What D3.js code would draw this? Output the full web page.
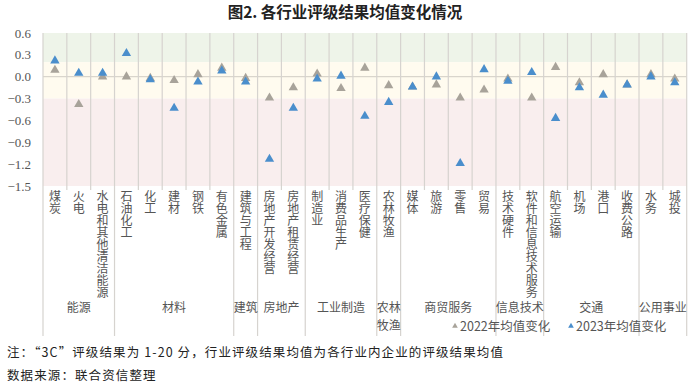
<!DOCTYPE html>
<html>
<head>
<meta charset="utf-8">
<script src="https://cdn.jsdelivr.net/npm/d3@7"></script>
<style>
  body { margin: 0; background: #fff; }
  svg { display: block; }
</style>
</head>
<body>
<div id="chart"></div>
<script>
// industries, left to right
const categories = ["煤炭", "火电", "水电和其他清洁能源", "石油化工", "化工", "建材", "钢铁", "有色金属",
  "建筑与工程", "房地产开发经营", "房地产租赁经营", "制造业", "消费品生产", "医疗保健", "农林牧渔",
  "媒体", "旅游", "零售", "贸易", "技术硬件", "软件和信息技术服务", "航空运输", "机场", "港口",
  "收费公路", "水务", "城投"];

// sector groups and how many industries each covers
const groupNames = ["能源", "材料", "建筑", "房地产", "工业制造", "农林\n牧渔", "商贸服务", "信息技术", "交通", "公用事业"];
const groupSizes = [3, 5, 1, 2, 3, 1, 4, 2, 4, 2];

const change2022 = [0.09, -0.38, 0.0, 0.0, -0.02, -0.05, 0.03, 0.12, -0.02, -0.29, -0.15, 0.04, -0.16, 0.12,
  -0.12, -0.14, -0.11, -0.29, -0.18, -0.03, -0.29, 0.13, -0.08, 0.03, -0.11, 0.03, -0.03];
const change2023 = [0.22, 0.05, 0.05, 0.32, -0.04, -0.43, -0.07, 0.08, -0.07, -1.13, -0.43, -0.03, 0.01, -0.54,
  -0.35, -0.14, 0.0, -1.19, 0.10, -0.06, 0.06, -0.57, -0.15, -0.25, -0.11, 0.0, -0.08];

const yTicks = [0.6, 0.3, 0.0, -0.3, -0.6, -0.9, -1.2, -1.5];
// background zones: [top, bottom, colour]
const zones = [[0.6, 0.2, "#eef4e9"], [0.2, -0.3, "#fffbef"], [-0.3, -1.5, "#f9eeee"]];

const seriesNames = ["2022年均值变化", "2023年均值变化"];
const seriesColors = ["#a8a39a", "#4a8ecc"];

const width = 700, height = 385;
const cjk = "'Noto Sans CJK SC', sans-serif";
const serif = "'Liberation Serif', 'Times New Roman', serif";

const svg = d3.select("#chart").append("svg")
  .attr("width", width)
  .attr("height", height);

const x = d3.scaleBand().domain(categories).range([43, 686.7]);
const y = d3.scaleLinear().domain([-1.5, 0.6]).range([186, 33]);

// title
svg.append("text")
  .attr("x", 345).attr("y", 18)
  .attr("text-anchor", "middle")
  .attr("font-family", cjk)
  .attr("font-weight", "bold")
  .attr("font-size", 15.5)
  .attr("fill", "#222")
  .text("图2. 各行业评级结果均值变化情况");

// background zones
svg.append("g").selectAll("rect")
  .data(zones)
  .join("rect")
  .attr("x", x.range()[0])
  .attr("width", x.range()[1] - x.range()[0])
  .attr("y", d => y(d[0]))
  .attr("height", d => y(d[1]) - y(d[0]))
  .attr("fill", d => d[2]);

// zero line
svg.append("line")
  .attr("x1", x.range()[0]).attr("x2", x.range()[1])
  .attr("y1", y(0)).attr("y2", y(0))
  .attr("stroke", "#d9d5cc").attr("stroke-width", 1.2);

// group boundaries (index of first category of each group, plus end)
const bounds = [0];
groupSizes.forEach(n => bounds.push(bounds[bounds.length - 1] + n));

// category separators
const catEdges = d3.range(categories.length + 1);
svg.append("g").selectAll("line")
  .data(catEdges)
  .join("line")
  .attr("x1", i => x.range()[0] + i * x.bandwidth())
  .attr("x2", i => x.range()[0] + i * x.bandwidth())
  .attr("y1", y(0.6))
  .attr("y2", i => bounds.includes(i) ? 336 : 190)
  .attr("stroke", "#d6d3cf")
  .attr("stroke-width", 1.2);

// y axis labels
svg.append("g").selectAll("text")
  .data(yTicks)
  .join("text")
  .attr("x", 31)
  .attr("y", d => y(d))
  .attr("dy", "0.35em")
  .attr("text-anchor", "end")
  .attr("font-family", serif)
  .attr("font-size", 13)
  .attr("fill", "#555")
  .text(d => d3.format(".1f")(d));

// category labels, written top to bottom
svg.append("g").selectAll("text")
  .data(categories)
  .join("text")
  .attr("x", d => x(d) + x.bandwidth() / 2)
  .attr("y", 190)
  .attr("writing-mode", "vertical-rl")
  .style("text-orientation", "upright")
  .attr("font-family", cjk)
  .attr("font-size", 12)
  .attr("fill", "#555")
  .text(d => d);

// group labels
groupNames.forEach((d, i) => {
  const cx = x.range()[0] + (bounds[i] + bounds[i + 1]) / 2 * x.bandwidth();
  d.split("\n").forEach((line, k) => {
    svg.append("text")
      .attr("x", cx)
      .attr("y", 312 + k * 17.5)
      .attr("text-anchor", "middle")
      .attr("font-family", cjk)
      .attr("font-size", 12)
      .attr("fill", "#555")
      .text(line);
  });
});

// markers: 2022 first, 2023 on top
const tri = d3.symbol(d3.symbolTriangle).size(38);
[change2022, change2023].forEach((vals, s) => {
  svg.append("g").selectAll("path")
    .data(vals)
    .join("path")
    .attr("d", tri)
    .attr("transform", (v, i) => `translate(${x(categories[i]) + x.bandwidth() / 2},${y(v)})`)
    .attr("fill", seriesColors[s]);
});

// legend
const legendX = [452, 568];
seriesNames.forEach((name, s) => {
  svg.append("path")
    .attr("d", d3.symbol(d3.symbolTriangle).size(14))
    .attr("transform", `translate(${legendX[s] + 3},${326})`)
    .attr("fill", seriesColors[s]);
  svg.append("text")
    .attr("x", legendX[s] + 8)
    .attr("y", 331)
    .attr("font-family", cjk)
    .attr("font-size", 12.5)
    .attr("fill", "#555")
    .text(name);
});

// notes
svg.append("text")
  .attr("x", 7).attr("y", 357)
  .attr("font-family", cjk)
  .attr("font-size", 12.5)
  .attr("letter-spacing", 1.1)
  .attr("fill", "#222")
  .text("注：“3C”评级结果为 1-20 分，行业评级结果均值为各行业内企业的评级结果均值");
svg.append("text")
  .attr("x", 7).attr("y", 380)
  .attr("font-family", cjk)
  .attr("font-size", 12.5)
  .attr("letter-spacing", 1.1)
  .attr("fill", "#222")
  .text("数据来源：联合资信整理");
</script>
</body>
</html>
